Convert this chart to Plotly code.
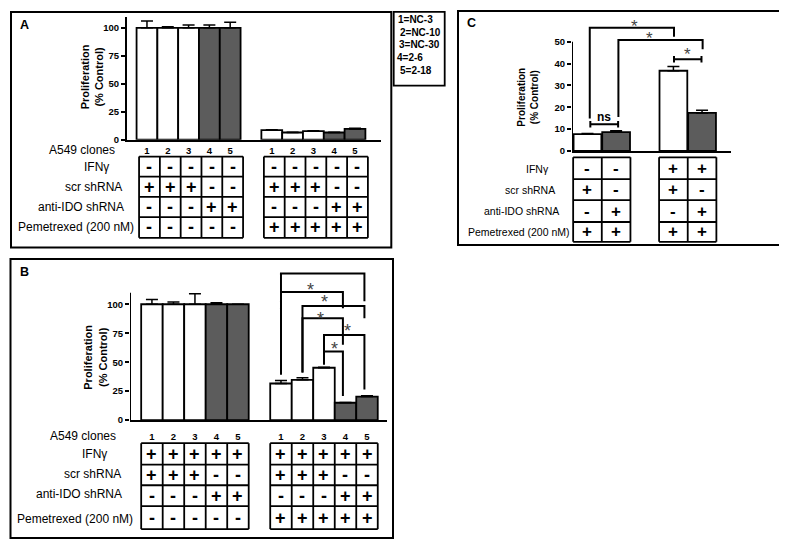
import plotly.graph_objects as go

W, H = 787, 539
FONT = "Liberation Sans, Arial, Helvetica, sans-serif"

# ---------------- data ----------------
clone_names = ["1=NC-3", "2=NC-10", "3=NC-30", "4=2-6", "5=2-18"]
clone_ticks = ["1", "2", "3", "4", "5", "1", "2", "3", "4", "5"]
pos_ab = [1, 2, 3, 4, 5, 7, 8, 9, 10, 11]

A_vals = [100, 100, 100, 100, 100, 8.6, 6.5, 7.7, 6.5, 9.7]
A_err = [6.0, 1.0, 2.5, 2.5, 5.0, 0.4, 0.3, 0.4, 0.3, 0.5]

B_vals = [100, 100, 100, 100, 100, 31.6, 34.8, 45.2, 15.0, 20.3]
B_err = [4.0, 2.0, 9.0, 1.2, 0.0, 2.5, 1.8, 0.5, 0.3, 0.8]

C_pos = [1, 2, 4, 5]
C_vals = [7.7, 8.6, 36.7, 17.4]
C_err = [0.3, 0.7, 2.0, 1.2]

row_names = ["IFNγ", "scr shRNA", "anti-IDO shRNA", "Pemetrexed (200 nM)"]
A_table = [["-"] * 10,
           ["+", "+", "+", "-", "-"] * 2,
           ["-", "-", "-", "+", "+"] * 2,
           ["-"] * 5 + ["+"] * 5]
B_table = [["+"] * 10,
           ["+", "+", "+", "-", "-"] * 2,
           ["-", "-", "-", "+", "+"] * 2,
           ["-"] * 5 + ["+"] * 5]
C_table = [["-", "-", "+", "+"],
           ["+", "-", "+", "-"],
           ["-", "+", "-", "+"],
           ["+", "+", "+", "+"]]

# comparisons (bar positions) marked significant
B_comparisons = [(7, 11), (7, 10), (8, 11), (8, 10), (9, 11), (9, 10)]
C_comparisons = [(1, 4), (2, 5)]

WHITE, GRAY = "white", "#5c5c5c"
colors_ab = [WHITE, WHITE, WHITE, GRAY, GRAY] * 2
colors_c = [WHITE, GRAY, WHITE, GRAY]


def px(x):
    return x / W


def py(y):
    return 1 - y / H


fig = go.Figure()


def add_bars(x, y, err, colors, xa, ya, width):
    fig.add_trace(go.Bar(
        x=x, y=y, width=width, xaxis=xa, yaxis=ya,
        marker=dict(color=colors, line=dict(color="black", width=1.8)),
        error_y=dict(type="data", symmetric=False, array=err,
                     arrayminus=[0] * len(err), color="black",
                     thickness=1.5, width=6),
        showlegend=False, hoverinfo="skip"))


add_bars(pos_ab, A_vals, A_err, colors_ab, "x", "y", 1.0)
add_bars(pos_ab, B_vals, B_err, colors_ab, "x2", "y2", 1.0)
add_bars(C_pos, C_vals, C_err, colors_c, "x3", "y3", 0.97)

tickfont = dict(family=FONT, size=9.5, color="black", weight="bold")
xcommon = dict(type="linear", showgrid=False, zeroline=False, showline=True,
               linecolor="black", linewidth=2, ticks="", tickfont=tickfont)
ycommon = dict(type="linear", showgrid=False, zeroline=False, ticks="outside",
               ticklen=4, tickwidth=1.5, tickcolor="black", tickfont=tickfont)

fig.update_layout(
    width=W, height=H, margin=dict(l=0, r=0, t=0, b=0),
    paper_bgcolor="white", plot_bgcolor="rgba(0,0,0,0)",
    font=dict(family=FONT, color="black"),
    barmode="overlay",
    xaxis=dict(xcommon, domain=[px(119), px(373)], range=[0.04, 12.25],
               anchor="y", tickvals=pos_ab, ticktext=clone_ticks,
               ticklabelstandoff=1),
    yaxis=dict(ycommon, domain=[py(133), py(8.7)], range=[0, 110],
               anchor="x", tickvals=[0, 25, 50, 75, 100], showline=True,
               linecolor="black", linewidth=2),
    xaxis2=dict(xcommon, domain=[px(122), px(379)], range=[-0.02, 11.93],
                anchor="y2", tickvals=pos_ab, ticktext=clone_ticks,
                ticklabelstandoff=6),
    yaxis2=dict(ycommon, domain=[py(416), py(416 - 128 * 1.17)], range=[0, 128],
                anchor="x2", tickvals=[0, 25, 50, 75, 100], showline=False),
    xaxis3=dict(xcommon, domain=[px(564), px(722.7)], range=[0.46, 6.0],
                anchor="y3", showticklabels=False),
    yaxis3=dict(ycommon, domain=[py(144.3), py(144.3 - 60 * 2.206)], range=[0, 60],
                anchor="x3", tickvals=[0, 10, 20, 30, 40, 50], showline=False),
)

shapes = []
ann = []

# y axis lines for B and C (only up to the top tick region)
shapes.append(dict(type="line", xref="x2", yref="y2", x0=-0.02, x1=-0.02, y0=0, y1=110,
                   line=dict(color="black", width=2)))
shapes.append(dict(type="line", xref="x3", yref="y3", x0=0.46, x1=0.46, y0=0, y1=50,
                   line=dict(color="black", width=2)))

# panel frames
for (x0, y0, x1, y1) in [(3, 4, 383.3, 241.7), (2.5, 253.3, 385, 535), (450, 3, 783, 239.3)]:
    shapes.append(dict(type="rect", xref="paper", yref="paper", x0=px(x0), x1=px(x1),
                       y0=py(y1), y1=py(y0), line=dict(color="black", width=2)))
# legend box
shapes.append(dict(type="rect", xref="paper", yref="paper", x0=px(385.7), x1=px(436.7),
                   y0=py(78.3), y1=py(4), line=dict(color="black", width=1.8)))
leg_pos = [(387.5, 11.7), (390, 24.5), (388.5, 37), (387, 50), (390, 63.3)]
for name, (lx, ly) in zip(clone_names, leg_pos):
    ann.append(dict(text=name, xref="paper", yref="paper", x=px(lx), y=py(ly),
                    xanchor="left", yanchor="middle", showarrow=False,
                    font=dict(size=10, weight="bold", family=FONT)))

# panel letters
for letter, (lx, ly) in zip(["A", "B", "C"], [(16.7, 16.7), (16.7, 266.7), (463.3, 15)]):
    ann.append(dict(text=letter, xref="paper", yref="paper", x=px(lx), y=py(ly),
                    xanchor="center", yanchor="middle", showarrow=False,
                    font=dict(size=12.5, weight="bold", family=FONT)))

# y axis titles
for (tx, ty, fs) in [(84, 70, 11), (87, 353, 11), (520.5, 90, 10)]:
    ann.append(dict(text="Proliferation<br>(% Control)", xref="paper", yref="paper",
                    x=px(tx), y=py(ty), xanchor="center", yanchor="middle",
                    textangle=-90, showarrow=False,
                    font=dict(size=fs, weight="bold", family=FONT)))


# tables
def add_table(table, positions, xref, rows_px, groups, xoff, fs_sign):
    for g in groups:
        xs = [positions[i] for i in g]
        x0 = xs[0] - 0.5 + xoff
        x1 = xs[-1] + 0.5 + xoff
        for ry in rows_px:
            shapes.append(dict(type="line", xref=xref, yref="paper", x0=x0, x1=x1,
                               y0=py(ry), y1=py(ry), line=dict(color="black", width=1.8)))
        edges = [p - 0.5 + xoff for p in xs] + [x1]
        for ex in edges:
            shapes.append(dict(type="line", xref=xref, yref="paper", x0=ex, x1=ex,
                               y0=py(rows_px[0]), y1=py(rows_px[-1]),
                               line=dict(color="black", width=1.8)))
    for r, row in enumerate(table):
        yc = (rows_px[r] + rows_px[r + 1]) / 2
        for i, sign in enumerate(row):
            ann.append(dict(text=sign, xref=xref, yref="paper", x=positions[i] + xoff,
                            y=py(yc), xanchor="center", yanchor="middle", showarrow=False,
                            font=dict(size=fs_sign, weight="bold", family=FONT)))


add_table(A_table, pos_ab, "x", [150, 170.3, 190.7, 211, 232],
          [range(0, 5), range(5, 10)], 0.12, 18)
add_table(B_table, pos_ab, "x2", [439.3, 461, 481.7, 502.7, 526],
          [range(0, 5), range(5, 10)], 0.0, 18)
add_table(C_table, C_pos, "x3", [150.7, 172.7, 194, 216, 236],
          [range(0, 2), range(2, 4)], 0.0, 17)


def add_labels(labels, pos, fs):
    for text, (lx, ly) in zip(labels, pos):
        ann.append(dict(text=text, xref="paper", yref="paper", x=px(lx), y=py(ly),
                        xanchor="center", yanchor="middle", showarrow=False,
                        font=dict(size=fs, family=FONT)))


add_labels(["A549 clones"] + row_names,
           [(74, 143.5), (88, 160), (85, 181), (72.5, 201), (68.3, 221.5)], 12)
add_labels(["A549 clones"] + row_names,
           [(75, 431.7), (86.5, 450), (84, 470.5), (71, 491), (67, 515.5)], 12)
add_labels(row_names, [(529.5, 162.5), (522, 183.3), (513, 205), (511, 226.5)], 10.5)

# significance brackets, panel B: (height, left-leg bottom, right-leg bottom, star x, star y)
B_geom = [(126.5, 39.3, 102.6, 8.86, 131.0),
          (110.5, 39.3, 96.6, 8.35, 115.0),
          (98.5, 41.0, 88.0, 9.03, 104.5),
          (87.8, 41.0, 65.0, 8.86, 90.0),
          (73.5, 47.9, 26.5, 10.07, 79.5),
          (59.2, 47.9, 20.8, 9.5, 63.5)]
for (a, b), (h, lb, rb, sx, sy) in zip(B_comparisons, B_geom):
    xa, xb = a, b - 0.12
    shapes.append(dict(type="path", xref="x2", yref="y2",
                       path=f"M {xa},{lb} L {xa},{h} L {xb},{h} L {xb},{rb}",
                       line=dict(color="black", width=2)))
    ann.append(dict(text="*", xref="x2", yref="y2", x=sx, y=sy - 2.5, xanchor="center",
                    yanchor="middle", showarrow=False,
                    font=dict(size=18, color="#444", family=FONT)))

# panel C brackets
C_geom = [(56.4, 14.8, 52.3, 2.65, 58.0), (50.8, 15.5, 46.5, 3.17, 52.5)]
for (a, b), (h, lb, rb, sx, sy) in zip(C_comparisons, C_geom):
    xa, xb = a + 0.08, b + 0.02
    shapes.append(dict(type="path", xref="x3", yref="y3",
                       path=f"M {xa},{lb} L {xa},{h} L {xb},{h} L {xb},{rb}",
                       line=dict(color="black", width=2)))
    ann.append(dict(text="*", xref="x3", yref="y3", x=sx, y=sy - 1.2, xanchor="center",
                    yanchor="middle", showarrow=False,
                    font=dict(size=17, color="#444", family=FONT)))
# capped brackets in C: (x0, x1, height, label)
for (x0, x1, h, lab, ly, bold) in [(4.02, 4.98, 42.0, "*", 44.3, False),
                                    (1.1, 2.07, 12.2, "ns", 15.5, True)]:
    shapes.append(dict(type="path", xref="x3", yref="y3",
                       path=(f"M {x0},{h - 1.5} L {x0},{h + 1.5} M {x0},{h} L {x1},{h} "
                             f"M {x1},{h - 1.5} L {x1},{h + 1.5}"),
                       line=dict(color="black", width=2)))
    ann.append(dict(text=lab, xref="x3", yref="y3", x=(x0 + x1) / 2, y=ly,
                    xanchor="center", yanchor="middle", showarrow=False,
                    font=dict(size=17 if lab == "*" else 12, color="#444" if lab == "*" else "black",
                              weight="bold" if bold else "normal", family=FONT)))

fig.update_layout(shapes=shapes, annotations=ann)
fig.write_html("out.html")
